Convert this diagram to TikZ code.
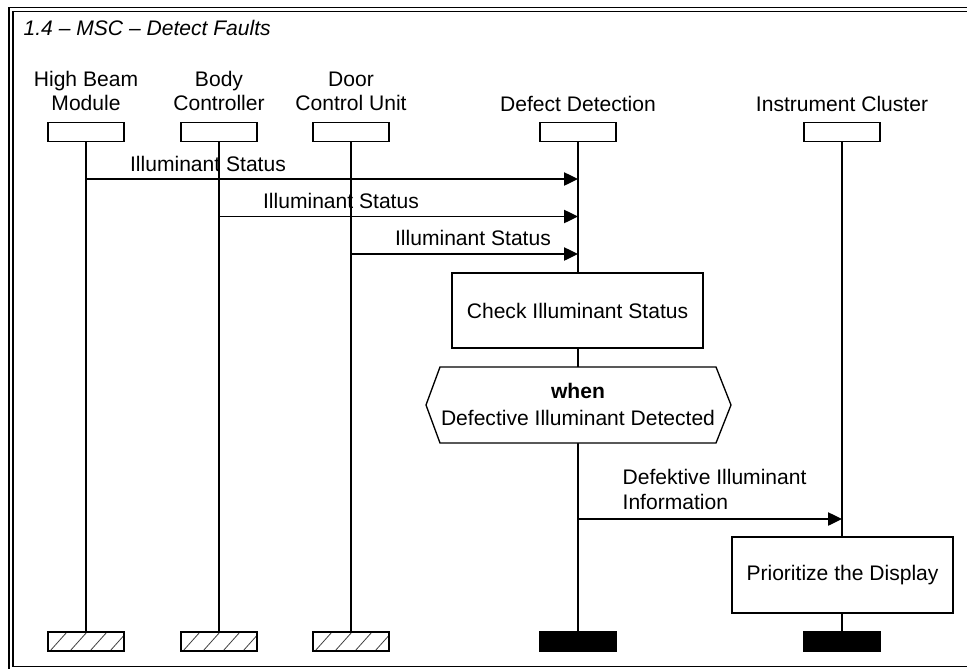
\documentclass[tikz,border=0pt]{standalone}
\usepackage{fontspec}
\setmainfont{Liberation Sans}
\usetikzlibrary{arrows.meta}
\begin{document}
\begin{tikzpicture}[x=0.75pt,y=-0.75pt,
  font=\fontsize{15.8}{18}\selectfont,
  line width=1pt,
  frameline/.style={draw=black, line width=1pt},
  headbox/.style={draw, fill=white, minimum width=57pt, minimum height=14.25pt, inner sep=0pt},
  stopbox/.style={draw, fill=black, minimum width=57pt, minimum height=14.25pt, inner sep=0pt},
  hatchbox/.style={draw, fill=white, minimum width=57pt, minimum height=14.25pt, inner sep=0pt,
    path picture={\foreach \k in {-1,0,1,2,3}
      \draw[line width=0.6pt, black!75] ([xshift=\k*15pt+1.5pt]path picture bounding box.south west) -- ++(17,-19);}},
  actbox/.style={draw, fill=white, inner sep=0pt},
  lbl/.style={anchor=base, inner sep=0pt},
  msg/.style={-{Triangle[length=10.5pt,width=10pt]}}
]
\useasboundingbox (0,0) rectangle (967,668);
\clip (0,0) rectangle (967,668);

% frame
\draw[frameline] (9,7.5) rectangle (990,672);
\draw[frameline] (13,11.5) rectangle (985,666.5);
\node[anchor=base west, inner sep=0pt, font=\fontsize{15.8}{18}\selectfont\itshape] (title) at (23,35) {1.4 -- MSC -- Detect Faults};

% instance names (base anchor = last line)
\node[lbl, align=center] (thb) at (86,110) {High Beam\\Module};
\node[lbl, align=center] (tbc) at (219,110) {Body\\Controller};
\node[lbl, align=center] (tdc) at (351,110) {Door\\Control Unit};
\node[lbl] (tdd) at (578,111) {Defect Detection};
\node[lbl] (tic) at (842,111) {Instrument Cluster};

% heads
\node[headbox] (hb) at (86,132) {};
\node[headbox] (bc) at (219,132) {};
\node[headbox] (dc) at (351,132) {};
\node[headbox] (dd) at (578,132) {};
\node[headbox] (ic) at (842,132) {};

% ends
\node[hatchbox] (hbE) at (86,641.5) {};
\node[hatchbox] (bcE) at (219,641.5) {};
\node[hatchbox] (dcE) at (351,641.5) {};
\node[stopbox] (ddE) at (578,641.5) {};
\node[stopbox] (icE) at (842,641.5) {};

% lifelines
\draw (hb) -- (hbE);
\draw (bc) -- (bcE);
\draw (dc) -- (dcE);
\draw (dd) -- (ddE);
\draw (ic) -- (icE);

% messages
\coordinate (m1) at (0,179);
\coordinate (m2) at (0,216.5);
\coordinate (m3) at (0,254);
\coordinate (m4) at (0,519);
\draw[msg] (hb |- m1) -- (dd |- m1);
\draw[msg] (bc |- m2) -- (dd |- m2);
\draw[msg] (dc |- m3) -- (dd |- m3);
\draw[msg] (dd |- m4) -- (ic |- m4);
\node[lbl] (l1) at (208,171) {Illuminant Status};
\node[lbl] (l2) at (341,208) {Illuminant Status};
\node[lbl] (l3) at (473,245) {Illuminant Status};
\node[anchor=base west, inner sep=0pt, align=left] (l4) at (622,509) {Defektive Illuminant\\[0.75pt]Information};

% action
\node[actbox, minimum width=188.25pt, minimum height=56.25pt] (chk) at (577.5,310.5) {Check Illuminant Status};

% condition
\draw[fill=white] (426,405) -- (440,367) -- (716,367) -- (731,405) -- (716,443) -- (440,443) -- cycle;
\node[lbl, align=center] (cond) at (578,425) {\textbf{when}\\[2pt]Defective Illuminant Detected};

% action 2
\node[actbox, minimum width=165.75pt, minimum height=57pt] (prio) at (842.5,575) {Prioritize the Display};
\end{tikzpicture}
\end{document}
